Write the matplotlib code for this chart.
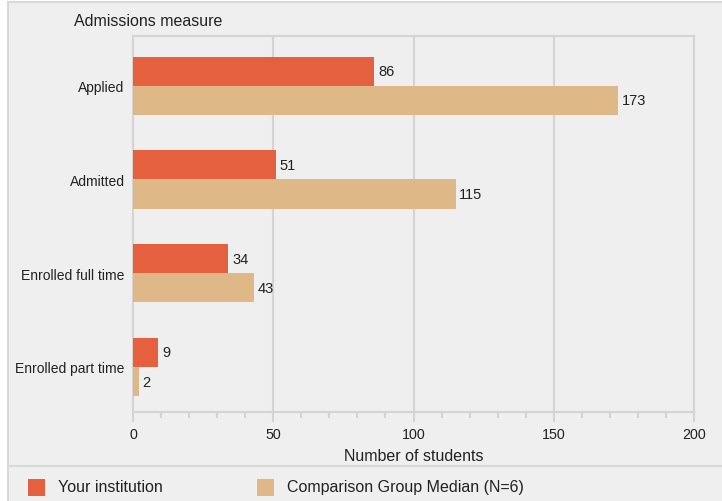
import matplotlib
matplotlib.use("Agg")
import matplotlib.pyplot as plt
from matplotlib.patches import Rectangle
from matplotlib.lines import Line2D
import numpy as np

plt.rcParams["font.family"] = ["Liberation Sans", "DejaVu Sans"]

# Data
categories = ["Applied", "Admitted", "Enrolled full time", "Enrolled part time"]
your_inst = [86, 51, 34, 9]
comparison = [173, 115, 43, 2]
series_names = ["Your institution", "Comparison Group Median (N=6)"]

orange = "#e4603f"
tan = "#dfb887"
bg = "#efefef"
grid_c = "#d4d4d4"
text_c = "#222222"

W, H = 722, 502
fig = plt.figure(figsize=(W / 100, H / 100), dpi=100)
fig.patch.set_facecolor("white")

# outer panel
fig.patches.append(Rectangle((8 / W, 0), 1 - 8 / W, 1 - 3 / H, transform=fig.transFigure,
                             facecolor=bg, edgecolor="none", zorder=0))
fig.lines.append(Line2D([8 / W, 8 / W], [0, 1 - 3 / H], transform=fig.transFigure, color="#d9d9d9", lw=1.5))
fig.lines.append(Line2D([8 / W, 1], [1 - 3 / H, 1 - 3 / H], transform=fig.transFigure, color="#d9d9d9", lw=1.5))
fig.lines.append(Line2D([8 / W, 1], [1 - 467 / H, 1 - 467 / H], transform=fig.transFigure, color="#d9d9d9", lw=1.5))

left, right, top, bottom = 133, 694, 37, 413
ax = fig.add_axes([left / W, 1 - bottom / H, (right - left) / W, (bottom - top) / H])
ax.set_zorder(5)
ax.patch.set_alpha(0)

y = np.arange(len(categories))
h = 0.31
ax.barh(y - h / 2, your_inst, height=h, color=orange, zorder=3)
ax.barh(y + h / 2, comparison, height=h, color=tan, zorder=3)

for i in range(len(categories)):
    ax.text(your_inst[i] + 1.3, y[i] - h / 2, str(your_inst[i]), va="center", ha="left",
            fontsize=10.5, color=text_c)
    ax.text(comparison[i] + 1.3, y[i] + h / 2, str(comparison[i]), va="center", ha="left",
            fontsize=10.5, color=text_c)

ax.set_xlim(0, 200)
ax.set_ylim(len(categories) - 0.52, -0.53)
ax.set_yticks(y)
ax.set_yticklabels(categories, fontsize=10, color=text_c)
ax.tick_params(axis="y", length=0, pad=6)
ax.set_xticks([0, 50, 100, 150, 200])
ax.set_xticks(np.arange(0, 201, 10), minor=True)
ax.tick_params(axis="x", which="major", length=7, width=1.5, color=grid_c, labelsize=10.3,
               labelcolor=text_c, pad=4)
ax.tick_params(axis="x", which="minor", length=4, width=1.5, color=grid_c)
ax.grid(axis="x", which="major", color=grid_c, lw=1.5, zorder=0)
for s in ax.spines.values():
    s.set_color(grid_c)
    s.set_linewidth(1.5)
ax.set_xlabel("Number of students", fontsize=11.5, color=text_c, labelpad=5)

fig.text(74 / W, 1 - 21 / H, "Admissions measure", fontsize=11.5, color=text_c, va="center", ha="left")

# legend
fig.patches.append(Rectangle((28 / W, 1 - 497 / H), 17 / W, 17 / H, transform=fig.transFigure,
                             facecolor=orange, edgecolor="none"))
fig.text(58 / W, 1 - 488 / H, series_names[0], fontsize=11.5, color=text_c, va="center")
fig.patches.append(Rectangle((257 / W, 1 - 497 / H), 17 / W, 17 / H, transform=fig.transFigure,
                             facecolor=tan, edgecolor="none"))
fig.text(287 / W, 1 - 488 / H, series_names[1], fontsize=11.5, color=text_c, va="center")

fig.savefig("out.png", dpi=100)
